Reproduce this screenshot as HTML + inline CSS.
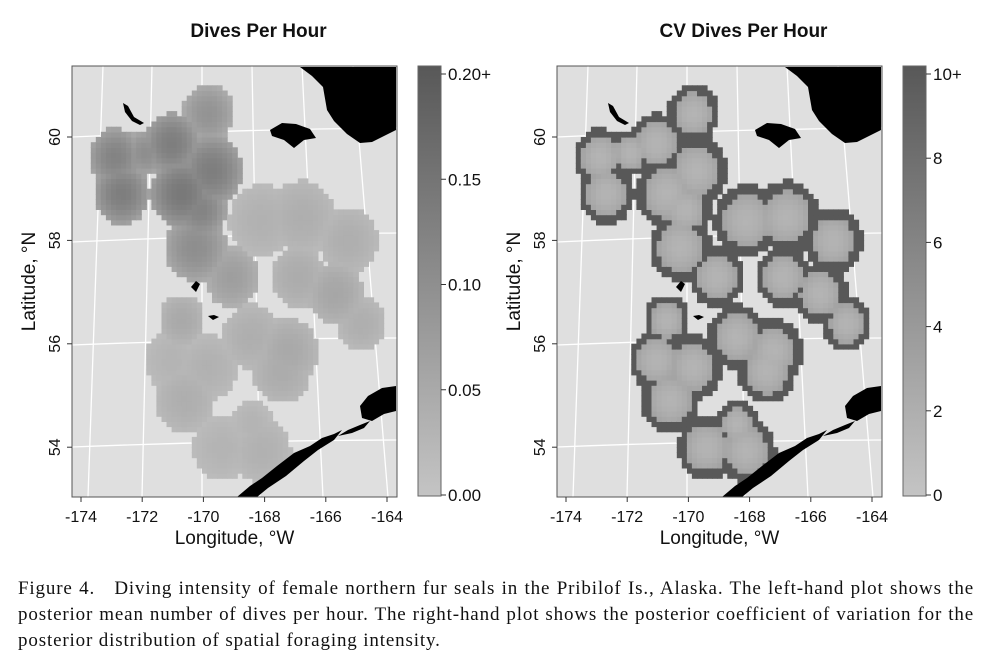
<!DOCTYPE html>
<html><head><meta charset="utf-8">
<style>
body{margin:0;background:#fff;width:1008px;height:665px;overflow:hidden;font-family:"Liberation Sans",sans-serif;}
#cap{position:absolute;left:18px;top:576px;width:956px;font-family:"Liberation Serif",serif;font-size:19px;line-height:26px;color:#111;letter-spacing:0.85px;}
#cap div{white-space:nowrap;}
#cap .j{text-align:justify;text-align-last:justify;white-space:normal;}
</style></head><body>
<svg id="fig" width="1008" height="570" style="position:absolute;left:0;top:0" font-family="Liberation Sans, sans-serif"></svg>
<div id="cap"><div class="j">Figure 4.&nbsp;&nbsp; Diving intensity of female northern fur seals in the Pribilof Is., Alaska. The left-hand plot shows the</div><div class="j">posterior mean number of dives per hour. The right-hand plot shows the posterior coefficient of variation for the</div><div>posterior distribution of spatial foraging intensity.</div></div>
<script>
// blob data: centres (lon, lat), radius in degrees lon, mean dives/hr
const blobLon=[-169.84,-169.73,-171.04,-170.71,-172.89,-172.67,-170.27,-168.1,-166.79,-165.27,-166.9,-165.7,-164.83,-168.42,-167.22,-170.71,-171.04,-169.84,-167.44,-170.6,-169.4,-168.1,-168.42,-169.08,-170.1,-171.9];
const blobLat=[60.46,59.36,59.88,58.92,59.62,58.91,57.88,58.39,58.46,58.0,57.3,56.98,56.4,56.14,55.87,56.46,55.69,55.56,55.49,54.92,54.0,53.94,54.46,57.3,58.6,59.7];
const blobRad=[0.75,0.9,0.8,0.9,0.75,0.8,0.9,0.95,0.95,0.85,0.8,0.8,0.7,0.85,0.85,0.65,0.8,0.85,0.85,0.85,0.85,0.85,0.6,0.8,0.75,0.6];
const blobMean=[0.09,0.13,0.13,0.14,0.12,0.13,0.1,0.035,0.04,0.04,0.045,0.055,0.04,0.04,0.05,0.05,0.03,0.035,0.045,0.04,0.03,0.035,0.03,0.07,0.12,0.1];
const lonTicks=[-174,-172,-170,-168,-166,-164];
const latTicks=[60,58,56,54];
const meanTicks=["0.00","0.05","0.10","0.15","0.20+"];
const cvTicks=["0","2","4","6","8","10+"];

const NS="http://www.w3.org/2000/svg";
const svg=document.getElementById('fig');
function mk(tag,attrs,parent){const e=document.createElementNS(NS,tag);for(const k in attrs)e.setAttribute(k,attrs[k]);(parent||svg).appendChild(e);return e;}
function grey(t){const v=Math.round(196-(196-88)*Math.max(0,Math.min(1,t)));return `rgb(${v},${v},${v})`;}

function panel(px,title,mode){
  const W=325,H=431,py=66;
  const X=lon=>px+9+(lon+174)*30.6;
  const Y=lat=>py+71+(60-lat)*51.7;
  const g=mk('g',{});
  
  
  const cid='clip'+mode;
  const cp=mk('clipPath',{id:cid},g);mk('rect',{x:px,y:py,width:W,height:H},cp);
  mk('rect',{x:px,y:py,width:W,height:H,fill:'#dfdfdf'},g);
  const inner=mk('g',{'clip-path':`url(#${cid})`},g);
  const vt=[31,80,130,180,230,281],vb=[16,70,130,188,251,316];
  vt.forEach((t,i)=>{const l=mk('line',{x1:px+t,y1:py,x2:px+vb[i],y2:py+H,stroke:'#fff','stroke-width':1.3},inner);});
  const hl=[71,176,279,381],hr=[62,167,272,374];
  hl.forEach((a,i)=>{const l=mk('path',{d:`M${px} ${py+a} Q${px+W/2} ${py+(a+hr[i])/2-3} ${px+W} ${py+hr[i]}`,stroke:'#fff','stroke-width':1.3,fill:'none'},inner);});
  const cw=0.165,ch=0.1;
  const cells=mk('g',{},inner);
  
  
  for(let lon=-175;lon<-163;lon+=cw){for(let lat=53;lat<61.5;lat+=ch){
    let dn=9,m=0;
    for(let i=0;i<blobLon.length;i++){
      const r=blobRad[i]*1.12;
      const dx=(lon+cw/2-blobLon[i])/r, dy=(lat+ch/2-blobLat[i])/(r*0.66);
      const d=Math.sqrt(dx*dx+dy*dy);
      if(d<dn)dn=d;
      if(d<1){const v=blobMean[i]*(1-0.5*d*d);if(v>m)m=v;}
    }
    if(dn>=1)continue;
    let c;
    if(mode==='mean'){c=grey(m/0.2);}
    else{const cv=dn>0.72?10:1.5+3*dn*dn;c=grey(cv/10);}
    mk('rect',{x:X(lon).toFixed(1),y:Y(lat+ch).toFixed(1),width:(cw*30.6+0.6).toFixed(1),height:(ch*51.7+0.6).toFixed(1),fill:c},cells);
  }}
  const land=[
    [[228,1],[324,1],[324,64],[300,76],[288,77],[275,68],[262,55],[255,44],[251,21],[240,10]],
    [[198,64],[210,57],[224,58],[238,63],[244,72],[232,74],[222,82],[212,74],[200,70]],
    [[51,37],[56,40],[62,51],[72,57],[68,59],[60,55],[53,46]],
    [[165,431],[178,420],[190,412],[205,400],[222,387],[238,380],[250,372],[262,368],[270,364],[262,374],[246,384],[232,395],[214,410],[196,422],[185,431]],
    [[266,370],[276,364],[288,359],[298,355],[292,362],[280,367]],
    [[288,340],[296,330],[310,322],[324,320],[324,345],[312,348],[300,355],[290,352]],
    [[119,221],[124,215],[128,218],[124,226]],[[136,250],[142,249],[147,251],[141,254]]
  ];
  land.forEach(p=>{const e=mk('polygon',{points:p.map(q=>(px+q[0])+','+(py+q[1])).join(' '),fill:'#000'},inner);});
  mk('rect',{x:px,y:py,width:W,height:H,fill:'none',stroke:'#555','stroke-width':1},g);
  lonTicks.forEach(v=>{const x=X(v);mk('line',{x1:x,y1:py+H,x2:x,y2:py+H+5,stroke:'#333'},g);
    const t=mk('text',{x:x,y:py+H+25,'text-anchor':'middle','font-size':16,fill:'#111'},g);t.textContent=v;});
  latTicks.forEach(v=>{const y=Y(v);mk('line',{x1:px-5,y1:y,x2:px,y2:y,stroke:'#333'},g);
    const t=mk('text',{x:px-12,y:y,'text-anchor':'middle','font-size':16,fill:'#111',transform:`rotate(-90 ${px-12} ${y})`},g);t.textContent=v;});
  const xt=mk('text',{x:px+W/2,y:py+H+47,'text-anchor':'middle','font-size':19,fill:'#111'},g);xt.textContent='Longitude, °W';
  
  const yx=px-37,yy=py+H/2;
  const yt=mk('text',{x:yx,y:yy,'text-anchor':'middle','font-size':19,fill:'#111',transform:`rotate(-90 ${yx} ${yy})`},g);yt.textContent='Latitude, °N';
  
  const tt=mk('text',{x:px+W/2+24,y:37,'text-anchor':'middle','font-size':19,'font-weight':'bold',fill:'#111'},g);tt.textContent=title;
  
  const bx=px+W+21,bw=23;
  const gid='grad'+mode;
  const lg=mk('linearGradient',{id:gid,x1:0,y1:1,x2:0,y2:0},g);
  mk('stop',{offset:0,'stop-color':grey(0)},lg);mk('stop',{offset:1,'stop-color':grey(1)},lg);
  const cb=mk('rect',{x:bx,y:py,width:bw,height:H-1,fill:`url(#${gid})`,stroke:'#666'},g);
  
  const labs=mode==='mean'?meanTicks:cvTicks;
  labs.forEach((s,i)=>{const y=py+H-2-i*(H-10)/(labs.length-1);
    mk('line',{x1:bx+bw,y1:y,x2:bx+bw+5,y2:y,stroke:'#333'},g);
    const t=mk('text',{x:bx+bw+7,y:y+6,'font-size':17,fill:'#111'},g);t.textContent=s;
    });
}
panel(72,'Dives Per Hour','mean');
panel(557,'CV Dives Per Hour','cv');
</script>
</body></html>
